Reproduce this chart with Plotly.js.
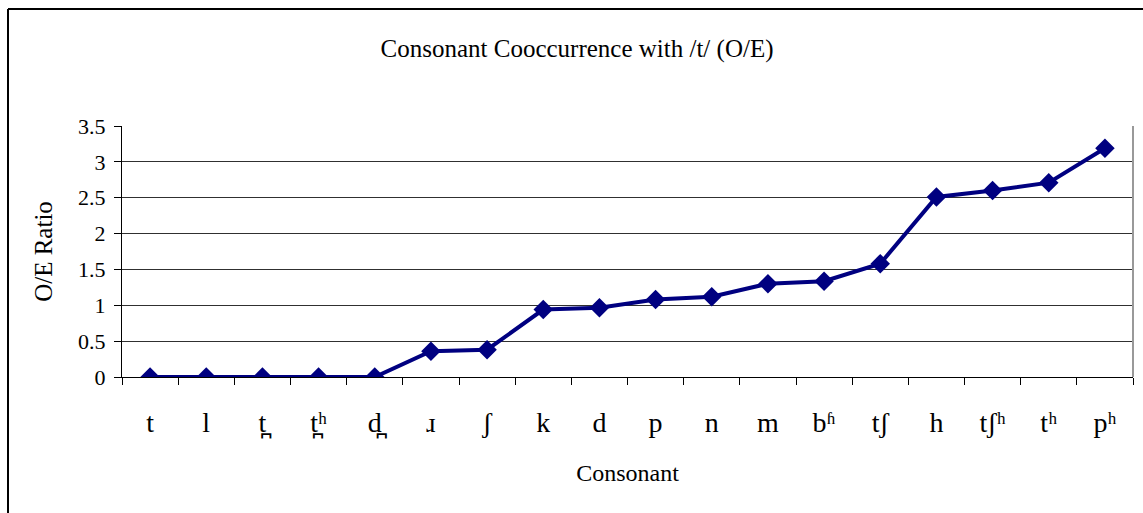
<!DOCTYPE html>
<html>
<head>
<meta charset="utf-8">
<script src="https://cdn.plot.ly/plotly-3.0.1.min.js"></script>
<style>
html, body { margin: 0; padding: 0; background: #fff; }
#chart { width: 1143px; height: 513px; }
</style>
</head>
<body>
<div id="chart"></div>
<script>
const consonants = ["t", "l", "t\u032A", "t\u032A\u02B0", "d\u032A", "\u0279", "\u0283", "k", "d", "p", "n", "m", "b\u02B1", "t\u0283", "h", "t\u0283\u02B0", "t\u02B0", "p\u02B0"];
const oeRatio = [0, 0, 0, 0, 0, 0.36, 0.38, 0.94, 0.965, 1.08, 1.12, 1.30, 1.335, 1.58, 2.51, 2.60, 2.71, 3.19];
const yTicks = [0, 0.5, 1, 1.5, 2, 2.5, 3, 3.5];
const yTickText = ["0", "0.5", "1", "1.5", "2", "2.5", "3", "3.5"];

const fontFam = "'Liberation Serif', 'DejaVu Serif', serif";

const trace = {
  x: consonants,
  y: oeRatio,
  type: "scatter",
  mode: "lines+markers",
  line: { color: "#000080", width: 4 },
  marker: { symbol: "diamond", size: 15, color: "#000080" },
  hoverinfo: "x+y"
};

const layout = {
  width: 1143,
  height: 513,
  margin: { l: 122, r: 10, t: 126, b: 136 },
  paper_bgcolor: "#ffffff",
  plot_bgcolor: "#ffffff",
  showlegend: false,
  font: { family: fontFam, color: "#000000", size: 20 },
  title: {
    text: "Consonant Cooccurrence with /t/ (O/E)",
    font: { family: fontFam, size: 25, color: "#000" },
    x: 577 / 1143, xref: "container", xanchor: "center",
    y: 1 - 48 / 513, yref: "container", yanchor: "middle"
  },
  xaxis: {
    type: "category",
    tickmode: "array",
    tickvals: consonants,
    ticktext: consonants,
    range: [-0.5, consonants.length - 0.5],
    showgrid: false,
    zeroline: false,
    showline: true,
    linecolor: "#000",
    linewidth: 1,
    ticks: "outside",
    tickson: "boundaries",
    ticklen: 7,
    tickcolor: "#000",
    ticklabelstandoff: 20,
    tickfont: { family: fontFam, size: 28, color: "#000" },
    title: { text: "Consonant", font: { family: fontFam, size: 24, color: "#000" }, standoff: 26 }
  },
  yaxis: {
    range: [0, 3.5],
    tickmode: "array",
    tickvals: yTicks,
    ticktext: yTickText,
    showgrid: true,
    gridcolor: "#303030",
    gridwidth: 1,
    zeroline: false,
    showline: true,
    linecolor: "#000",
    linewidth: 1,
    ticks: "outside",
    ticklen: 7,
    tickcolor: "#000",
    ticklabelstandoff: 4,
    tickfont: { family: fontFam, size: 22, color: "#000" },
    title: { text: "O/E Ratio", font: { family: fontFam, size: 25, color: "#000" }, standoff: 18 }
  },
  shapes: [
    { type: "line", xref: "paper", yref: "paper", x0: 1, x1: 1, y0: 0, y1: 1, line: { color: "#999", width: 2 } },
    { type: "line", xref: "paper", yref: "paper", x0: (8 - 122) / 1011, x1: (8 - 122) / 1011, y0: -0.6, y1: (377 - 9) / 251, line: { color: "#000", width: 2 } },
    { type: "line", xref: "paper", yref: "paper", x0: (8 - 122) / 1011, x1: 1.05, y0: (377 - 9) / 251, y1: (377 - 9) / 251, line: { color: "#000", width: 2 } }
  ]
};

Plotly.newPlot("chart", [trace], layout, { displayModeBar: false, staticPlot: true });
</script>
</body>
</html>
